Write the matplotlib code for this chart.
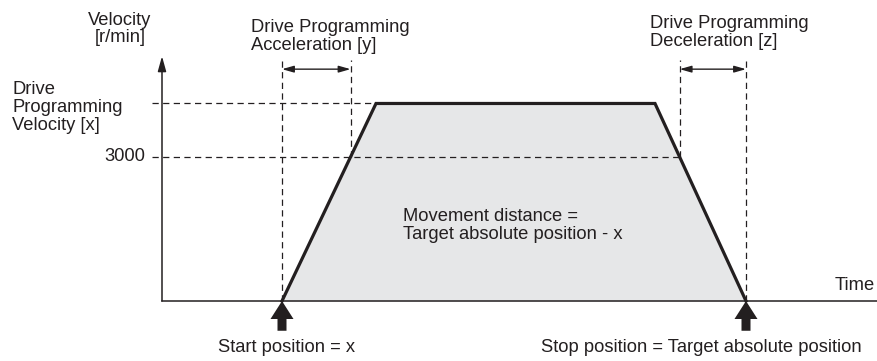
import matplotlib
matplotlib.use("Agg")
import matplotlib.pyplot as plt
from matplotlib.patches import FancyArrow
import numpy as np

# trapezoid profile (time in s, velocity in r/min)
times = [1.20, 2.14, 4.93, 5.84]
velocity = [0, 4115, 4115, 0]
ref_velocity = 3000

ink = "#231f20"
fill = "#e6e7e8"
plt.rcParams['font.family'] = ['Liberation Sans', 'DejaVu Sans']
fs = 13.2
ls = 1.06

fig = plt.figure(figsize=(8.78, 3.61), dpi=100)
ax = fig.add_axes([0, 0, 1, 1])
ax.set_xlim(-1.62, 7.16)
ax.set_ylim(-1250, 6270.8)
ax.axis('off')

t0, t1, t2, t3 = times
vtop = velocity[1]
# where the ramps cross the 3000 line
t_acc = np.interp(ref_velocity, [0, vtop], [t0, t1])
t_dec = np.interp(ref_velocity, [0, vtop], [t3, t2])

ax.fill_between(times, velocity, color=fill, lw=0)
ax.plot(times, velocity, color=ink, lw=2.3, solid_joinstyle='miter')

# axes
ax.plot([0, 7.16], [0, 0], color=ink, lw=1.1)
ax.annotate('', xy=(0, 5100), xytext=(0, 0),
            arrowprops=dict(arrowstyle='-|>,head_width=0.25,head_length=0.9',
                            lw=1.1, color=ink, shrinkA=0, shrinkB=0))

dash = dict(color=ink, lw=0.9, ls=(0, (5, 3.5)))
top_y = 5020
ax.plot([-0.10, t1], [vtop, vtop], **dash)
ax.plot([-0.10, t_dec], [ref_velocity, ref_velocity], **dash)
ax.plot([t0, t0], [0, top_y], **dash)
ax.plot([t_acc, t_acc], [ref_velocity, top_y], **dash)
ax.plot([t_dec, t_dec], [ref_velocity, top_y], **dash)
ax.plot([t3, t3], [0, top_y], **dash)

dbl = dict(arrowstyle='<|-|>,head_width=0.2,head_length=0.7', lw=1.0,
           color=ink, shrinkA=0, shrinkB=0)
ax.annotate('', xy=(t0, 4830), xytext=(t_acc, 4830), arrowprops=dbl)
ax.annotate('', xy=(t_dec, 4830), xytext=(t3, 4830), arrowprops=dbl)

# position markers
for t in [t0, t3]:
    ax.add_patch(FancyArrow(t, -620, 0, 620, width=0.09, head_width=0.23,
                            head_length=375, length_includes_head=True,
                            color=ink, lw=0))

ax.text(-0.42, 6030, "Velocity\n[r/min]", ha='center', va='top', fontsize=fs,
        color=ink, linespacing=ls)
ax.text(0.895, 5880, "Drive Programming\nAcceleration [y]", ha='left', va='top',
        fontsize=fs, color=ink, linespacing=ls)
ax.text(4.88, 5950, "Drive Programming\nDeceleration [z]", ha='left', va='top',
        fontsize=fs, color=ink, linespacing=ls)
ax.text(-1.50, 4580, "Drive\nProgramming\nVelocity [x]", ha='left', va='top',
        fontsize=fs, color=ink, linespacing=ls)
ax.text(-0.17, ref_velocity, "3000", ha='right', va='center', fontsize=fs, color=ink)
ax.text(2.41, 1930, "Movement distance =\nTarget absolute position - x", ha='left',
        va='top', fontsize=fs, color=ink, linespacing=ls)
ax.text(7.13, 320, "Time", ha='right', va='center', fontsize=fs, color=ink)
ax.text(0.56, -960, "Start position = x", ha='left', va='center', fontsize=fs, color=ink)
ax.text(3.79, -960, "Stop position = Target absolute position", ha='left',
        va='center', fontsize=fs, color=ink)

fig.savefig("out.png", dpi=100, facecolor='white')
